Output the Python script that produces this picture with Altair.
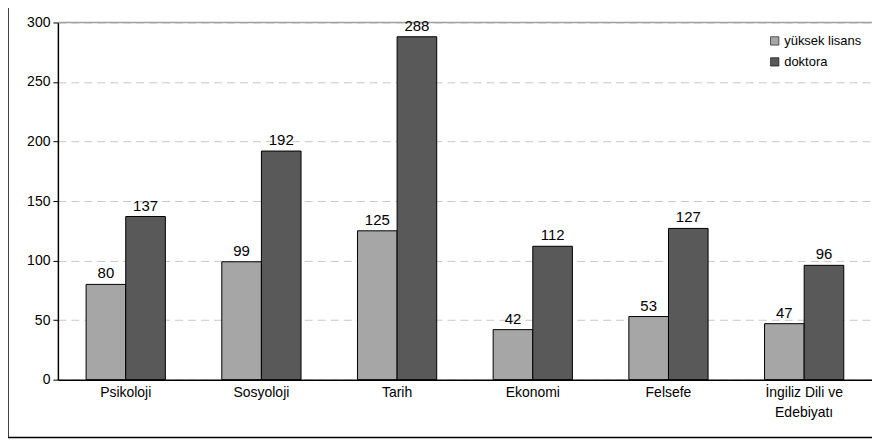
import altair as alt
import pandas as pd

categories = ["Psikoloji", "Sosyoloji", "Tarih", "Ekonomi", "Felsefe", "İngiliz Dili ve Edebiyatı"]
series = ["yüksek lisans", "doktora"]
yuksek_lisans = [80, 99, 125, 42, 53, 47]
doktora = [137, 192, 288, 112, 127, 96]
colors = ["#a6a6a6", "#595959"]
y_ticks = [0, 50, 100, 150, 200, 250, 300]

rows = []
for c, a, b in zip(categories, yuksek_lisans, doktora):
    rows.append({"cat": c, "series": series[0], "value": a})
    rows.append({"cat": c, "series": series[1], "value": b})
df = pd.DataFrame(rows)

W = 816
H = 358
FONT = "Liberation Sans"

label_expr = ("datum.value == 'İngiliz Dili ve Edebiyatı' ? "
              "['İngiliz Dili ve', 'Edebiyatı'] : datum.label")

x_enc = alt.X(
    "cat:N", sort=categories,
    scale=alt.Scale(paddingInner=0.416, paddingOuter=0.208),
    axis=alt.Axis(title=None, labelAngle=0, ticks=False, domainColor="black",
                  domainWidth=1.5, labelColor="black", labelFontSize=14,
                  labelPadding=6, labelLimit=300, labelExpr=label_expr,
                  labelLineHeight=20, grid=False),
)
xo_enc = alt.XOffset("series:N", sort=series,
                     scale=alt.Scale(paddingInner=0, paddingOuter=0))
y_enc = alt.Y(
    "value:Q", scale=alt.Scale(domain=[0, 300], nice=False),
    axis=alt.Axis(title=None, values=y_ticks, grid=True, gridDash=[8, 5],
                  gridColor="#c8c8c8", domainColor="black", domainWidth=1.5,
                  tickColor="black", tickSize=5, labelFontSize=14,
                  labelPadding=3, labelColor="black"),
)
color_enc = alt.Color(
    "series:N", sort=series,
    scale=alt.Scale(domain=series, range=colors),
    legend=alt.Legend(title=None, orient="none", legendX=712, legendY=12,
                      symbolType="square", symbolSize=70,
                      symbolStrokeColor="black", symbolStrokeWidth=0.6,
                      labelFontSize=13, rowPadding=7, labelOffset=3,
                      labelColor="black"),
)

base = alt.Chart(df)

bars = base.mark_bar(stroke="black", strokeWidth=1).encode(
    x=x_enc, xOffset=xo_enc, y=y_enc, color=color_enc
)

labels = base.mark_text(dy=-11, fontSize=15, color="black", font=FONT).encode(
    x=alt.X("cat:N", sort=categories), xOffset=alt.XOffset("series:N", sort=series),
    y="value:Q", text="value:Q"
)

dummy = pd.DataFrame({"a": [0]})
top_line = alt.Chart(dummy).mark_rule(color="#a0a0a0", strokeWidth=1.5).encode(
    x=alt.value(0), x2=alt.value(W), y=alt.value(0)
)
frame = alt.Chart(dummy).mark_rect(filled=False, stroke="black", strokeWidth=1.5).encode(
    x=alt.value(-50), x2=alt.value(W + 40), y=alt.value(-40), y2=alt.value(H + 58)
)

chart = alt.layer(top_line, bars, labels, frame).properties(
    width=W, height=H,
    autosize=alt.AutoSizeParams(type="none"),
    padding={"left": 50, "top": 14, "right": 0, "bottom": 59},
).configure(font=FONT).configure_view(strokeWidth=0)

chart.save("out.html", embed_options={"renderer": "svg", "actions": False})
